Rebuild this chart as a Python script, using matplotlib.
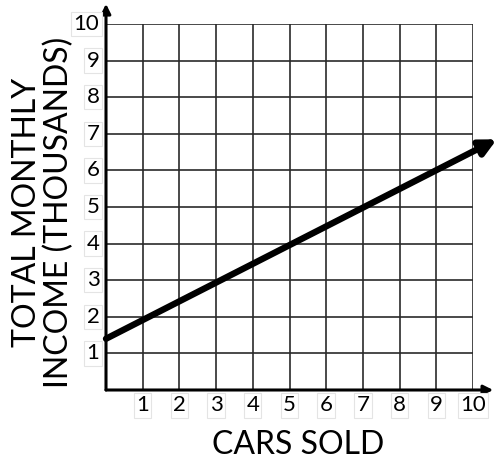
import matplotlib.pyplot as plt

# data
X_TICKS = [1, 2, 3, 4, 5, 6, 7, 8, 9, 10]
Y_TICKS = [1, 2, 3, 4, 5, 6, 7, 8, 9, 10]
LINE_X = [0, 10.65]
LINE_Y = [1.4, 6.85]

X_LABEL = "CARS SOLD"
Y_LABEL = "TOTAL MONTHLY\nINCOME (THOUSANDS)"

W, H = 497, 459
plt.rcParams["font.family"] = ["Lato", "DejaVu Sans"]

fig = plt.figure(figsize=(W / 100, H / 100), dpi=100)
ax = fig.add_axes([106 / W, (H - 390) / H, (473 - 106) / W, (390 - 24) / H])
ax.set_xlim(0, 10)
ax.set_ylim(0, 10)
for s in ax.spines.values():
    s.set_visible(False)
ax.set_xticks([])
ax.set_yticks([])

# grid
for v in X_TICKS:
    ax.axvline(v, color="#2a2a2a", lw=1.2, zorder=1)
for v in Y_TICKS:
    ax.axhline(v, color="#2a2a2a", lw=1.2, zorder=1)

# axes with arrows
ax.annotate("", xy=(10.55, 0), xytext=(0, 0), annotation_clip=False,
            arrowprops=dict(arrowstyle="-|>", color="black", lw=2.2,
                            mutation_scale=14, shrinkA=0, shrinkB=0))
ax.annotate("", xy=(0, 10.55), xytext=(0, 0), annotation_clip=False,
            arrowprops=dict(arrowstyle="-|>", color="black", lw=2.2,
                            mutation_scale=14, shrinkA=0, shrinkB=0))

# main line
ax.annotate("", xy=(LINE_X[1], LINE_Y[1]), xytext=(LINE_X[0], LINE_Y[0]),
            annotation_clip=False, zorder=5,
            arrowprops=dict(arrowstyle="-|>", color="black", lw=4.6,
                            mutation_scale=24, shrinkA=0, shrinkB=0))

box = dict(boxstyle="square,pad=0.1", fc="white", ec="#e4e4e4", lw=0.8)
for v in X_TICKS:
    ax.text(v, -0.42, str(v), ha="center", va="center", fontsize=16,
            bbox=box, clip_on=False)
for v in Y_TICKS:
    ax.text(-0.18, v, str(v), ha="right", va="center", fontsize=16,
            bbox=box, clip_on=False)

fig.text(298 / W, 1 - 445 / H, X_LABEL, ha="center", va="center", fontsize=23)
fig.text(43 / W, 1 - 212 / H, Y_LABEL, ha="center", va="center", fontsize=23,
         rotation=90, linespacing=1.1)

fig.savefig("out.png", dpi=100)
